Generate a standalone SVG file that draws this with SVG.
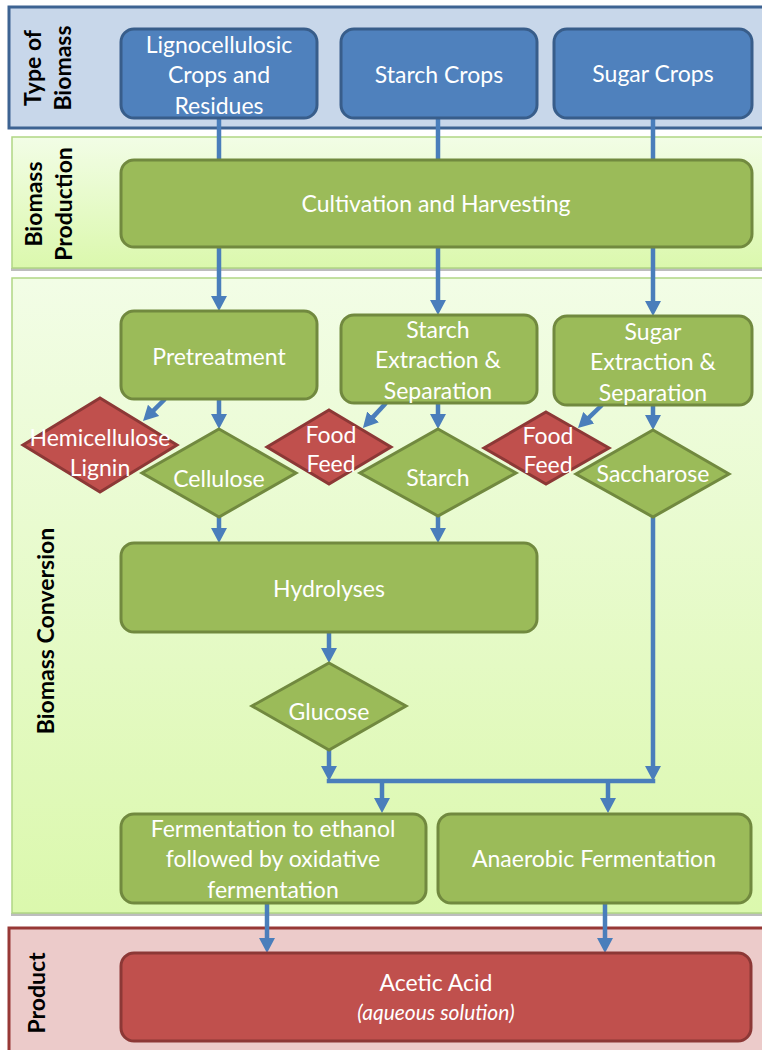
<svg xmlns="http://www.w3.org/2000/svg" width="762" height="1050" viewBox="0 0 762 1050">
<defs>
<linearGradient id="gg" x1="0" y1="0" x2="0" y2="1">
<stop offset="0" stop-color="#f2fde6"/>
<stop offset="1" stop-color="#dbf8ad"/>
</linearGradient>
<marker id="ah" markerWidth="16" markerHeight="16" refX="5" refY="8" orient="auto" markerUnits="userSpaceOnUse">
<path d="M0,0 L15,8 L0,16 z" fill="#4a7ebb"/>
</marker>
</defs>
<style>
.band-b{fill:#c8d7ea;stroke:#3d6392;stroke-width:3}
.band-g{fill:url(#gg);stroke:#b0d684;stroke-width:1.5}
.band-r{fill:#eccbca;stroke:#973836;stroke-width:3}
.blue{fill:#4f81bd;stroke:#385d8a;stroke-width:3}
.green{fill:#9bbb59;stroke:#71893f;stroke-width:3}
.red{fill:#c0504d;stroke:#8c3836;stroke-width:3}
.t{font-family:Lato,"Liberation Sans",sans-serif;font-size:23px;fill:#ffffff;text-anchor:middle}
.ti{font-family:Lato,"Liberation Sans",sans-serif;font-size:21px;font-style:italic;fill:#ffffff;text-anchor:middle}
.lb{font-family:Lato,"Liberation Sans",sans-serif;font-size:23px;font-weight:bold;fill:#000000;text-anchor:middle}
.c{fill:none;stroke:#4a7ebb;stroke-width:4.5}
.ca{fill:none;stroke:#4a7ebb;stroke-width:4.5;marker-end:url(#ah)}
.sh{fill:#bdbdbd}
</style>

<g id="bands">
<rect class="sh" x="11" y="268" width="760" height="3"/>
<rect class="sh" x="11" y="913" width="760" height="3"/>
<rect class="band-b" x="9" y="7" width="770" height="121"/>
<rect class="band-g" x="12" y="137" width="770" height="131"/>
<rect class="band-g" x="12" y="278" width="770" height="635"/>
<rect class="band-r" x="9" y="928" width="770" height="140"/>
<text class="lb" transform="translate(41,68) rotate(-90)">Type of</text>
<text class="lb" transform="translate(71,68) rotate(-90)">Biomass</text>
<text class="lb" transform="translate(42,204) rotate(-90)">Biomass</text>
<text class="lb" transform="translate(72,204) rotate(-90)">Production</text>
<text class="lb" transform="translate(54,631) rotate(-90)">Biomass Conversion</text>
<text class="lb" transform="translate(45,993) rotate(-90)">Product</text>
</g>

<g id="connectors">
<line class="c" x1="219" y1="118" x2="219" y2="160"/>
<line class="c" x1="438" y1="118" x2="438" y2="160"/>
<line class="c" x1="653" y1="118" x2="653" y2="160"/>
<line class="ca" x1="219" y1="247" x2="219" y2="301"/>
<line class="ca" x1="438" y1="247" x2="438" y2="305"/>
<line class="ca" x1="653" y1="247" x2="653" y2="306"/>
<line class="ca" x1="165" y1="399" x2="150.1" y2="413.9"/>
<line class="ca" x1="219" y1="399" x2="219" y2="419"/>
<line class="ca" x1="386" y1="403" x2="369.7" y2="420.6"/>
<line class="ca" x1="438" y1="403" x2="438" y2="419"/>
<line class="ca" x1="602" y1="405" x2="585.2" y2="421.1"/>
<line class="ca" x1="653" y1="405" x2="653" y2="420"/>
<line class="ca" x1="219" y1="517" x2="219" y2="533"/>
<line class="ca" x1="438" y1="516" x2="438" y2="533"/>
<line class="ca" x1="329" y1="632" x2="329" y2="653"/>
<line class="ca" x1="329" y1="750" x2="329" y2="771"/>
<line class="ca" x1="653" y1="517" x2="653" y2="771"/>
<line class="c" x1="326.75" y1="781" x2="655.25" y2="781"/>
<line class="ca" x1="382" y1="781" x2="382" y2="803"/>
<line class="ca" x1="608" y1="781" x2="608" y2="803"/>
<line class="ca" x1="267" y1="903" x2="267" y2="943"/>
<line class="ca" x1="605" y1="903" x2="605" y2="943"/>
</g>

<g id="lignocellulosic">
<rect class="blue" x="121" y="29" width="196" height="89" rx="13"/>
<text class="t" x="219" y="53">Lignocellulosic</text>
<text class="t" x="219" y="83">Crops and</text>
<text class="t" x="219" y="114">Residues</text>
</g>
<g id="starch-crops">
<rect class="blue" x="341" y="29" width="196" height="89" rx="13"/>
<text class="t" x="439" y="83">Starch Crops</text>
</g>
<g id="sugar-crops">
<rect class="blue" x="554" y="29" width="198" height="89" rx="13"/>
<text class="t" x="653" y="82">Sugar Crops</text>
</g>
<g id="cultivation">
<rect class="green" x="121" y="160" width="631" height="87" rx="13"/>
<text class="t" x="436" y="212">Cultivation and Harvesting</text>
</g>
<g id="pretreatment">
<rect class="green" x="121" y="311" width="196" height="88" rx="13"/>
<text class="t" x="219" y="365">Pretreatment</text>
</g>
<g id="starch-extraction">
<rect class="green" x="341" y="315" width="196" height="88" rx="13"/>
<text class="t" x="438" y="338">Starch</text>
<text class="t" x="438" y="368">Extraction &amp;</text>
<text class="t" x="438" y="399">Separation</text>
</g>
<g id="sugar-extraction">
<rect class="green" x="554" y="316" width="198" height="89" rx="13"/>
<text class="t" x="653" y="340">Sugar</text>
<text class="t" x="653" y="370">Extraction &amp;</text>
<text class="t" x="653" y="401">Separation</text>
</g>
<g id="hemicellulose">
<polygon class="red" points="100,398 177,445 100,492 23,445"/>
<text class="t" x="100" y="446">Hemicellulose</text>
<text class="t" x="100" y="476">Lignin</text>
</g>
<g id="cellulose">
<polygon class="green" points="219,429 296,473 219,517 142,473"/>
<text class="t" x="219" y="487">Cellulose</text>
</g>
<g id="food-feed-1">
<polygon class="red" points="329,410 391,447 329,484 267,447"/>
<text class="t" x="331" y="443">Food</text>
<text class="t" x="331" y="472">Feed</text>
</g>
<g id="starch">
<polygon class="green" points="438,429 516,473 438,516 360,473"/>
<text class="t" x="438" y="486">Starch</text>
</g>
<g id="food-feed-2">
<polygon class="red" points="546,412 609,448 546,484 484,448"/>
<text class="t" x="548" y="444">Food</text>
<text class="t" x="548" y="473">Feed</text>
</g>
<g id="saccharose">
<polygon class="green" points="653,430 729,474 653,517 576,474"/>
<text class="t" x="653" y="482">Saccharose</text>
</g>
<g id="hydrolyses">
<rect class="green" x="121" y="543" width="416" height="89" rx="13"/>
<text class="t" x="329" y="597">Hydrolyses</text>
</g>
<g id="glucose">
<polygon class="green" points="329,663 406,706 329,750 252,706"/>
<text class="t" x="329" y="720">Glucose</text>
</g>
<g id="fermentation-ethanol">
<rect class="green" x="121" y="814" width="305" height="89" rx="13"/>
<text class="t" x="273" y="837">Fermentation to ethanol</text>
<text class="t" x="273" y="867">followed by oxidative</text>
<text class="t" x="273" y="898">fermentation</text>
</g>
<g id="anaerobic">
<rect class="green" x="438" y="814" width="313" height="89" rx="13"/>
<text class="t" x="594" y="867">Anaerobic Fermentation</text>
</g>
<g id="acetic-acid">
<rect class="red" x="121" y="953" width="630" height="88" rx="13"/>
<text class="t" x="436" y="991">Acetic Acid</text>
<text class="ti" x="436" y="1020">(aqueous solution)</text>
</g>
</svg>
